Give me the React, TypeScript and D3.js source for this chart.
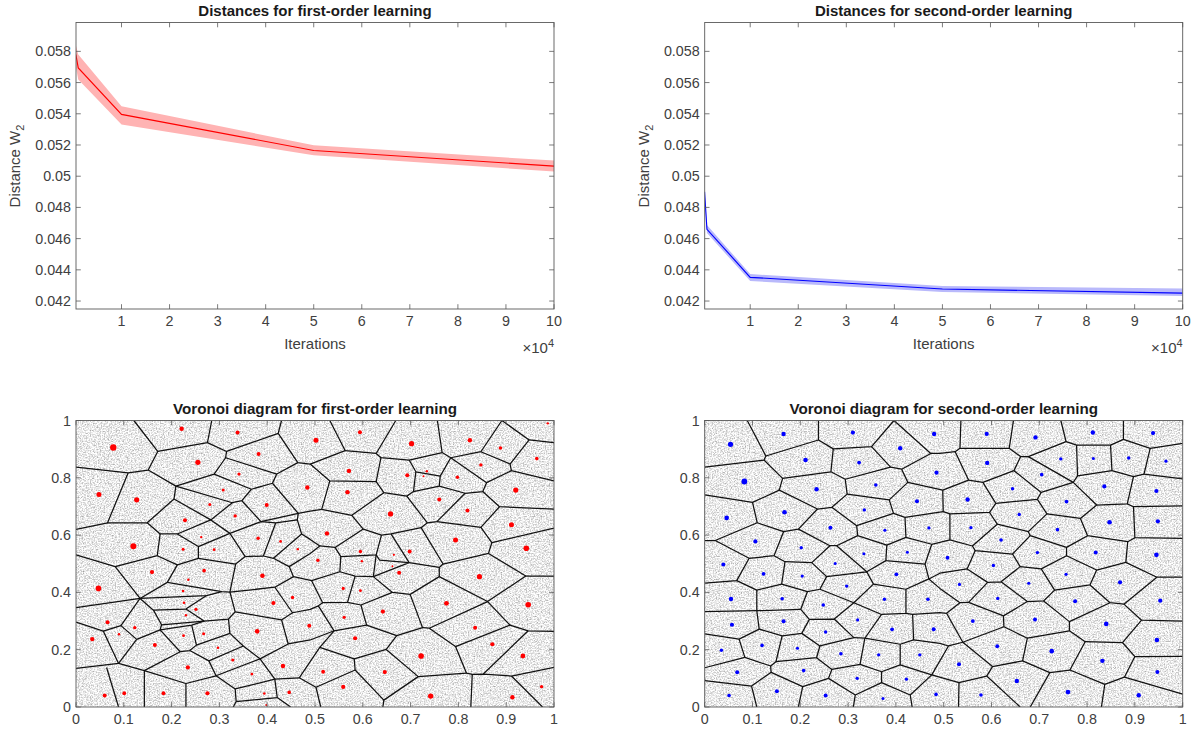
import React from "react";
import * as d3 from "d3";

type Pt = [number, number];
type Dot = [number, number, number];

// iterations, in units of 10^4
const iterations = [0.05, 0.1, 1, 5, 10];

const firstMean = [0.0578, 0.05694, 0.05396, 0.05165, 0.05065];
const firstUpper = [0.0584, 0.0578, 0.05449, 0.05198, 0.0510];
const firstLower = [0.0570, 0.0562, 0.05332, 0.05134, 0.0503];

const secondMean = [0.0490, 0.0466, 0.04352, 0.04277, 0.04251];
const secondUpper = [0.0491, 0.04687, 0.04373, 0.04296, 0.04281];
const secondLower = [0.0488, 0.04636, 0.04328, 0.04258, 0.04232];

const distanceTicks = [0.042, 0.044, 0.046, 0.048, 0.05, 0.052, 0.054, 0.056, 0.058];
const iterationTicks = [1, 2, 3, 4, 5, 6, 7, 8, 9, 10];
const unitXTicks = [0, 0.1, 0.2, 0.3, 0.4, 0.5, 0.6, 0.7, 0.8, 0.9, 1];
const unitYTicks = [0, 0.2, 0.4, 0.6, 0.8, 1];

// cell borders, as polylines
const firstCells: Pt[][] = [
  [[.121,1],[.171,.892],[.151,.827],[.109,.817],[0,.837]],
  [[.171,.892],[.275,.923],[.284,1]],
  [[.275,.923],[.315,.892],[.423,.955],[.430,1]],
  [[.423,.955],[.464,.853],[.490,.848],[.563,.895],[.531,1]],
  [[.315,.892],[.313,.870],[.289,.813],[.209,.771],[.151,.827]],
  [[.313,.870],[.420,.813],[.464,.853]],
  [[.420,.813],[.411,.781],[.367,.760],[.289,.813]],
  [[.411,.781],[.465,.676],[.490,.684],[.514,.690]],
  [[.209,.771],[.205,.726],[.282,.653],[.322,.606]],
  [[.209,.771],[.327,.713],[.347,.720],[.367,.760]],
  [[.347,.720],[.387,.647],[.465,.676]],
  [[.327,.713],[.282,.653]],
  [[.322,.606],[.387,.647],[.418,.643],[.392,.527]],
  [[.418,.643],[.463,.653],[.472,.604],[.413,.519],[.392,.527]],
  [[.465,.676],[.463,.653]],
  [[.205,.726],[.149,.643],[.066,.643],[.109,.817]],
  [[.066,.643],[0,.620]],
  [[.149,.643],[.176,.604],[.212,.604],[.256,.560],[.322,.606]],
  [[.212,.604],[.282,.653]],
  [[.176,.604],[.170,.528],[.082,.490],[0,.531]],
  [[.170,.528],[.212,.496],[.256,.519],[.256,.560]],
  [[.256,.519],[.334,.499],[.354,.525],[.322,.606]],
  [[.354,.525],[.392,.527]],
  [[.413,.519],[.446,.490],[.490,.536],[.510,.562],[.490,.585],[.472,.604]],
  [[.446,.490],[.455,.455],[.493,.441],[.552,.472],[.554,.525]],
  [[.563,.895],[.628,.885],[.669,1]],
  [[.628,.885],[.638,.870],[.697,.862],[.766,.888],[.756,1]],
  [[.766,.888],[.784,.870],[.847,.891],[.891,1],[.948,.932],[1,.923]],
  [[.948,.932],[.908,.848],[.847,.891]],
  [[.908,.848],[.911,.825],[1,.789]],
  [[.911,.825],[.859,.783],[.784,.870],[.762,.806],[.711,.821],[.697,.862]],
  [[.711,.821],[.706,.752],[.760,.771],[.762,.806]],
  [[.706,.752],[.692,.736],[.644,.748],[.628,.787],[.638,.870]],
  [[.490,.848],[.531,.789],[.628,.787]],
  [[.531,.789],[.514,.690],[.577,.669],[.644,.748]],
  [[.577,.669],[.601,.621],[.639,.600],[.659,.604],[.722,.626],[.735,.643],[.692,.736]],
  [[.760,.771],[.814,.746],[.755,.647],[.735,.643]],
  [[.814,.746],[.851,.752],[.859,.783]],
  [[.851,.752],[.886,.699],[1,.691]],
  [[.886,.699],[.847,.627],[.755,.647]],
  [[.847,.627],[.870,.574],[1,.624]],
  [[.870,.574],[.863,.536],[.768,.499],[.722,.626]],
  [[.659,.604],[.697,.504]],
  [[.639,.600],[.628,.531],[.554,.525],[.542,.557],[.601,.621]],
  [[.542,.557],[.510,.562]],
  [[.628,.531],[.635,.513],[.697,.504],[.622,.455]],
  [[.697,.504],[.760,.487],[.768,.499]],
  [[.760,.487],[.760,.455]],
  [[.863,.536],[.941,.457],[1,.457]],
  [[.941,.457],[.861,.368],[.760,.455],[.699,.393],[.662,.400],[.622,.455],[.584,.457],[.552,.472]],
  [[.628,.531],[.622,.455]],
  [[.584,.457],[.568,.365],[.516,.364],[.493,.441]],
  [[.568,.365],[.596,.356],[.662,.400]],
  [[.596,.356],[.608,.286],[.540,.266],[.510,.208]],
  [[.516,.364],[.507,.353],[.490,.341],[.453,.329],[.416,.418]],
  [[.507,.353],[.540,.266],[.490,.234],[.444,.220]],
  [[.608,.286],[.671,.249],[.649,.201],[.582,.168],[.510,.208],[.467,.102]],
  [[.671,.249],[.725,.277],[.699,.393]],
  [[.725,.277],[.739,.275],[.861,.368]],
  [[.739,.275],[.794,.211],[.817,.118],[.829,.114],[.852,.115],[.911,.108],[1,.138]],
  [[.794,.211],[.908,.286],[.861,.368]],
  [[.908,.286],[.946,.266],[1,.264]],
  [[.946,.266],[.852,.115]],
  [[.911,.108],[.976,0]],
  [[.829,.114],[.826,0]],
  [[.817,.118],[.716,.106],[.649,.201]],
  [[.716,.106],[.644,.024],[.584,.129],[.582,.168]],
  [[.644,.024],[.642,0]],
  [[.584,.129],[.502,.069],[.512,0]],
  [[.502,.069],[.467,.102],[.416,.097]],
  [[.082,.490],[.134,.379],[0,.347]],
  [[.134,.379],[.191,.435],[.212,.496]],
  [[.191,.435],[.305,.403],[.322,.401],[.334,.499]],
  [[.134,.379],[.273,.389],[.305,.403]],
  [[.273,.389],[.230,.342],[.162,.338],[.134,.379]],
  [[.230,.342],[.268,.300],[.179,.287],[.162,.338]],
  [[.322,.401],[.416,.418],[.455,.455]],
  [[.322,.401],[.333,.332],[.319,.307],[.268,.300]],
  [[.333,.332],[.430,.304],[.444,.220],[.385,.168],[.350,.213],[.322,.257],[.319,.307]],
  [[.430,.304],[.453,.329]],
  [[.179,.287],[.176,.269],[.127,.236],[.094,.284],[.134,.379]],
  [[.094,.284],[.057,.265],[0,.296]],
  [[.057,.265],[.089,.152],[0,.135]],
  [[.089,.152],[.127,.236]],
  [[.089,.152],[.143,.127],[.218,.193],[.176,.269]],
  [[.176,.269],[.242,.286],[.268,.300]],
  [[.242,.286],[.252,.216],[.238,.197],[.218,.193]],
  [[.252,.216],[.322,.257]],
  [[.350,.213],[.278,.161],[.238,.197]],
  [[.278,.161],[.293,.109],[.230,.082],[.143,.127]],
  [[.293,.109],[.385,.168],[.416,.097],[.333,.063],[.293,.109]],
  [[.333,.063],[.335,.019],[.329,0]],
  [[.335,.019],[.421,.033],[.416,.097]],
  [[.421,.033],[.449,0]],
  [[.230,.082],[.230,0]],
  [[.143,.127],[.143,0]],
  [[.064,.138],[.089,0]],
];

const secondCells: Pt[][] = [
  [[.089,1],[.128,.876],[.124,.862],[0,.837]],
  [[.128,.876],[.238,.932],[.238,1]],
  [[.238,.932],[.269,.901],[.349,.909],[.396,1],[.473,.885],[.492,.885],[.524,.891],[.534,.903],[.536,1]],
  [[.349,.909],[.389,.837],[.412,.830],[.473,.885]],
  [[.269,.901],[.264,.821],[.294,.795],[.298,.743],[.266,.697],[.236,.691],[.156,.757],[.163,.798],[.264,.821]],
  [[.163,.798],[.124,.862]],
  [[.156,.757],[.100,.714],[0,.740]],
  [[.100,.714],[.110,.643],[.022,.581],[0,.581]],
  [[.110,.643],[.165,.612],[.196,.621],[.236,.691]],
  [[.165,.612],[.145,.528],[.093,.519],[.022,.581]],
  [[.196,.621],[.262,.563],[.224,.504],[.168,.507],[.145,.528]],
  [[.266,.697],[.318,.633],[.320,.598],[.381,.565],[.421,.592],[.419,.662],[.395,.676],[.386,.723],[.298,.743]],
  [[.386,.723],[.425,.784],[.412,.830]],
  [[.294,.795],[.389,.837]],
  [[.318,.633],[.395,.676]],
  [[.320,.598],[.276,.563],[.262,.563]],
  [[.419,.662],[.499,.682]],
  [[.425,.784],[.498,.757],[.552,.792],[.524,.891]],
  [[.421,.592],[.475,.568],[.513,.583]],
  [[.381,.565],[.379,.511],[.461,.499],[.475,.568]],
  [[.276,.563],[.339,.472],[.379,.511]],
  [[.093,.519],[.067,.441],[0,.432]],
  [[.067,.441],[.109,.408],[.161,.429],[.168,.507]],
  [[.161,.429],[.215,.403],[.241,.411],[.255,.455],[.224,.504]],
  [[.255,.455],[.339,.472],[.353,.429],[.312,.364],[.241,.411]],
  [[.215,.403],[.201,.341],[.219,.306],[.203,.257],[.162,.248],[.114,.272],[.109,.336],[.109,.408]],
  [[.109,.336],[0,.333]],
  [[.109,.336],[.201,.341]],
  [[.219,.306],[.271,.307],[.312,.242],[.241,.213],[.203,.257]],
  [[.271,.307],[.312,.364],[.370,.323],[.335,.240],[.312,.242]],
  [[.353,.429],[.421,.411],[.469,.447],[.461,.499]],
  [[.421,.411],[.421,.327],[.370,.323]],
  [[.421,.327],[.435,.323],[.437,.234],[.409,.219],[.335,.240]],
  [[.435,.323],[.492,.329],[.506,.327]],
  [[.437,.234],[.492,.222],[.510,.213]],
  [[.469,.447],[.492,.414],[.534,.364]],
  [[.469,.447],[.492,.467],[.549,.482]],
  [[.114,.272],[.072,.237],[0,.255]],
  [[.072,.237],[.084,.173],[.138,.143],[.149,.158],[.162,.248]],
  [[.084,.173],[0,.137]],
  [[.149,.158],[.234,.172],[.241,.213]],
  [[.234,.172],[.266,.131],[.259,.100],[.205,.071],[.139,.121],[.098,.073],[0,.092]],
  [[.139,.121],[.138,.143]],
  [[.098,.073],[.109,0]],
  [[.205,.071],[.196,0]],
  [[.259,.100],[.315,.042],[.311,0]],
  [[.315,.042],[.370,.085],[.370,.123],[.325,.149],[.266,.131]],
  [[.325,.149],[.335,.240]],
  [[.370,.123],[.409,.147],[.409,.219]],
  [[.370,.085],[.430,.042],[.434,0]],
  [[.430,.042],[.475,.112],[.409,.147]],
  [[.475,.112],[.510,.213],[.540,.226]],
  [[.475,.112],[.532,.085]],
  [[.534,.903],[.637,.903],[.646,1]],
  [[.637,.903],[.661,.874],[.647,.825],[.582,.784],[.552,.792]],
  [[.661,.874],[.677,.874],[.756,.926],[.745,1]],
  [[.756,.926],[.778,.914],[.849,.914],[.876,.934],[.876,1]],
  [[.876,.934],[.932,.903],[1,.920]],
  [[.932,.903],[.919,.813],[1,.796]],
  [[.919,.813],[.897,.804],[.852,.825],[.849,.914]],
  [[.778,.914],[.780,.807],[.852,.825]],
  [[.780,.807],[.771,.784],[.677,.874]],
  [[.771,.784],[.704,.749],[.647,.825]],
  [[.704,.749],[.696,.725],[.609,.711],[.582,.784]],
  [[.498,.757],[.499,.682],[.513,.674],[.596,.679],[.609,.711]],
  [[.596,.679],[.612,.638],[.560,.562],[.513,.583],[.513,.674]],
  [[.612,.638],[.677,.612],[.716,.674],[.696,.725]],
  [[.716,.674],[.786,.658],[.820,.705],[.771,.784]],
  [[.820,.705],[.884,.709],[.897,.804]],
  [[.884,.709],[.897,.699],[1,.702]],
  [[.897,.699],[.900,.591],[1,.589]],
  [[.900,.591],[.885,.577],[.801,.598],[.786,.658]],
  [[.801,.598],[.757,.557],[.681,.598],[.677,.612]],
  [[.681,.598],[.644,.534],[.566,.546],[.560,.562]],
  [[.644,.534],[.660,.490]],
  [[.757,.557],[.757,.528],[.820,.478],[.881,.505],[.885,.577]],
  [[.757,.528],[.704,.482]],
  [[.881,.505],[.946,.453],[1,.453]],
  [[.566,.546],[.549,.482],[.592,.435],[.620,.437],[.660,.490],[.704,.482],[.732,.408],[.709,.370],[.675,.368],[.620,.437]],
  [[.732,.408],[.806,.426],[.820,.478]],
  [[.806,.426],[.848,.364],[.877,.359],[.946,.453]],
  [[.709,.370],[.763,.298],[.848,.364]],
  [[.877,.359],[.914,.303],[1,.300]],
  [[.914,.303],[.874,.225],[.796,.228],[.763,.266],[.763,.298]],
  [[.874,.225],[.900,.176],[1,.177]],
  [[.900,.176],[.878,.104],[1,.045]],
  [[.878,.104],[.837,.079],[.830,0]],
  [[.837,.079],[.764,.129],[.796,.228]],
  [[.764,.129],[.722,.120],[.665,.161],[.675,.240],[.763,.266]],
  [[.722,.120],[.681,0]],
  [[.675,.240],[.626,.280],[.625,.318],[.675,.368]],
  [[.625,.318],[.552,.365],[.592,.435]],
  [[.552,.365],[.534,.364],[.506,.327],[.540,.226],[.626,.280]],
  [[.540,.226],[.602,.141],[.665,.161]],
  [[.602,.141],[.590,.108],[.660,0]],
  [[.590,.108],[.532,.085],[.531,0]],
];

// x, y, dot radius
const firstSites: Dot[] = [
  [.078,.906,3.2],[.221,.971,2.2],[.338,.958,2],[.382,.883,2],[.255,.854,2.6],[.341,.813,1.6],[.308,.757,1.5],
  [.484,.766,2.2],[.048,.742,2.5],[.127,.723,2.6],[.280,.707,1.5],[.399,.705,2],[.333,.667,1.7],[.228,.652,2],
  [.262,.593,1.2],[.381,.589,1.7],[.428,.578,1.4],[.120,.561,3],[.224,.551,1.5],[.289,.549,1.4],[.464,.551,1.2],
  [.502,.931,2.5],[.594,.959,2],[.702,.919,2.6],[.824,.931,2.2],[.987,.990,1.2],[.888,.904,1.8],[.964,.867,1.8],
  [.847,.845,1.7],[.571,.824,2.2],[.693,.809,2],[.734,.823,1.2],[.727,.805,1],[.798,.802,1.7],[.568,.750,2.2],
  [.920,.757,2.6],[.760,.724,2],[.819,.686,2],[.658,.674,2.6],[.911,.636,2.5],[.525,.606,2.2],[.794,.583,2.5],
  [.942,.554,2.8],[.698,.543,2],[.595,.543,1.7],[.665,.531,1.1],[.506,.512,1.7],[.598,.509,1.2],[.662,.491,1],
  [.159,.471,2.1],[.268,.476,1.8],[.390,.458,2.3],[.047,.414,2.8],[.235,.444,1.2],[.224,.405,1.3],[.226,.364,1.3],
  [.251,.341,1.6],[.413,.363,2.1],[.453,.382,1.7],[.230,.320,1.2],[.066,.296,2],[.123,.277,1.7],[.090,.254,1.2],
  [.488,.284,2],[.379,.264,2.3],[.267,.256,1.5],[.225,.249,1.4],[.034,.237,2.2],[.165,.216,2],[.297,.207,1.3],
  [.328,.164,1.6],[.234,.138,2.1],[.433,.143,2.2],[.368,.115,1.4],[.060,.040,2],[.101,.048,1.9],[.183,.048,1.9],
  [.275,.048,2.1],[.394,.047,1.3],[.446,.051,1.8],[.398,.007,.9],[.559,.414,1.6],[.595,.406,1.4],[.676,.469,2],
  [.844,.455,2.6],[.775,.362,2.4],[.946,.357,2.8],[.561,.313,1.6],[.642,.333,2.1],[.835,.277,2],[.584,.240,2.1],
  [.871,.219,2.1],[.722,.178,2.8],[.935,.178,2.4],[.517,.123,1.9],[.646,.122,2.1],[.559,.070,2.1],[.742,.038,2.7],
  [.913,.034,2.2],[.974,.071,1.7],
];

const secondSites: Dot[] = [
  [.054,.917,2.6],[.165,.953,2.2],[.310,.958,2.1],[.409,.903,2.2],[.480,.953,2.2],[.211,.862,2.3],[.323,.853,1.9],
  [.485,.818,2.1],[.083,.787,2.9],[.234,.760,2.2],[.358,.775,1.8],[.444,.718,2],[.046,.660,2.3],[.167,.680,2.3],
  [.334,.688,1.7],[.377,.617,1.6],[.469,.625,1.6],[.263,.626,2],[.106,.578,2.1],[.202,.556,1.7],[.273,.501,1.5],
  [.333,.535,1.5],[.424,.540,1.5],[.039,.497,2],[.590,.953,2.1],[.692,.941,2.2],[.812,.958,2.2],[.938,.956,2.1],
  [.745,.866,1.7],[.813,.867,1.5],[.887,.869,1.7],[.965,.858,1.6],[.591,.852,2.2],[.705,.811,1.8],[.644,.762,1.7],
  [.836,.770,2.1],[.945,.754,2.1],[.550,.724,2.2],[.757,.717,1.9],[.658,.672,1.7],[.847,.645,2.3],[.948,.648,2.1],
  [.557,.626,1.7],[.738,.619,1.8],[.620,.583,1.8],[.696,.539,1.7],[.818,.539,2],[.945,.531,2.3],[.508,.521,1.9],
  [.604,.494,1.7],[.533,.428,1.6],[.678,.432,1.6],[.756,.463,1.6],[.869,.435,2.1],[.613,.379,1.7],[.775,.369,2],
  [.953,.371,2.1],[.561,.300,1.9],[.691,.305,2],[.840,.290,2.3],[.946,.234,2.3],[.612,.212,1.9],[.726,.195,2.3],
  [.532,.149,2],[.832,.161,2.2],[.947,.122,2],[.653,.091,2.2],[.760,.052,2.4],[.578,.042,1.8],[.908,.041,2.2],
  [.123,.465,1.9],[.204,.457,1.6],[.297,.422,1.7],[.401,.463,1.9],[.055,.377,2.2],[.162,.378,1.8],[.248,.356,1.8],
  [.376,.376,1.7],[.467,.376,1.8],[.057,.287,2.1],[.165,.299,2],[.320,.304,1.6],[.392,.271,1.9],[.253,.262,1.7],
  [.479,.271,2],[.035,.198,1.7],[.120,.215,1.8],[.194,.205,1.6],[.285,.186,1.8],[.364,.182,1.7],[.450,.182,1.7],
  [.068,.121,2],[.207,.127,1.8],[.319,.100,1.7],[.422,.097,1.6],[.051,.040,1.8],[.151,.055,2],[.253,.040,2],
  [.373,.030,1.5],[.484,.044,1.8],
];

const FONT = "'Liberation Sans', Arial, sans-serif";
const AXIS_COLOR = "#5a5a5a";
const TEXT_COLOR = "#404040";
const TICK_LEN = 4.8;

function Frame({ x, y, xTicks, yTicks, xFormat, yFormat }) {
  const [x0, x1] = x.range();
  const [y0, y1] = y.range();
  return (
    <g fontFamily={FONT} fontSize={14.3} fill={TEXT_COLOR}>
      {xTicks.map(t => (
        <g key={t}>
          <path d={`M${x(t)},${y0}V${y0 - TICK_LEN}M${x(t)},${y1}V${y1 + TICK_LEN}`} stroke={AXIS_COLOR} strokeWidth={0.8} />
          <text x={x(t)} y={y0 + 17} textAnchor="middle">{xFormat(t)}</text>
        </g>
      ))}
      {yTicks.map(t => (
        <g key={t}>
          <path d={`M${x0},${y(t)}H${x0 + TICK_LEN}M${x1},${y(t)}H${x1 - TICK_LEN}`} stroke={AXIS_COLOR} strokeWidth={0.8} />
          <text x={x0 - 5} y={y(t) + 5} textAnchor="end">{yFormat(t)}</text>
        </g>
      ))}
      <rect x={x0} y={y1} width={x1 - x0} height={y0 - y1} fill="none" stroke={AXIS_COLOR} strokeWidth={0.9} />
    </g>
  );
}

function DistancePanel({ left, title, mean, upper, lower, color, band, clipId }) {
  const x = d3.scaleLinear().domain([0.053, 10]).range([left, left + 478]);
  const y = d3.scaleLinear().domain([0.04149, 0.05985]).range([309, 22.5]);
  const meanLine = d3.line<number>().x((_, i) => x(iterations[i])).y(d => y(d));
  const bandArea = d3.area<number>()
    .x((_, i) => x(iterations[i]))
    .y0((_, i) => y(lower[i]))
    .y1(d => y(d));
  return (
    <g>
      <clipPath id={clipId}>
        <rect x={left} y={22.5} width={478} height={286.5} />
      </clipPath>
      <g clipPath={`url(#${clipId})`}>
        <path d={bandArea(upper)} fill={band} />
        <path d={meanLine(mean)} fill="none" stroke={color} strokeWidth={1.15} />
      </g>
      <Frame x={x} y={y} xTicks={iterationTicks} yTicks={distanceTicks} xFormat={d => d} yFormat={d3.format("~g")} />
      <text x={left + 239} y={16} textAnchor="middle" fontFamily={FONT} fontSize={15} fontWeight="bold" fill="#1a1a1a">{title}</text>
      <text x={left + 239} y={349} textAnchor="middle" fontFamily={FONT} fontSize={15} fill={TEXT_COLOR}>Iterations</text>
      <text transform={`translate(${left - 56},${166}) rotate(-90)`} textAnchor="middle" fontFamily={FONT} fontSize={15} fill={TEXT_COLOR}>
        Distance W<tspan dy={4} fontSize={11}>2</tspan>
      </text>
      <text x={left + 478} y={353} textAnchor="end" fontFamily={FONT} fontSize={15} fill={TEXT_COLOR}>
        ×10<tspan dy={-6} fontSize={11}>4</tspan>
      </text>
    </g>
  );
}

function VoronoiPanel({ left, title, cells, sites, color, clipId }) {
  const x = d3.scaleLinear().domain([0, 1]).range([left, left + 478]);
  const y = d3.scaleLinear().domain([0, 1]).range([707, 420.5]);
  const border = d3.line<Pt>().x(d => x(d[0])).y(d => y(d[1]));
  return (
    <g>
      <clipPath id={clipId}>
        <rect x={left} y={420.5} width={478} height={286.5} />
      </clipPath>
      <rect x={left} y={420.5} width={478} height={286.5} fill="#fff" />
      <rect x={left} y={420.5} width={478} height={286.5} filter="url(#stipple)" opacity={0.6} />
      <g clipPath={`url(#${clipId})`}>
        {cells.map((c, i) => (
          <path key={i} d={border(c)} fill="none" stroke="#111" strokeWidth={1.25} strokeLinejoin="round" />
        ))}
        {sites.map((s, i) => (
          <circle key={i} cx={x(s[0])} cy={y(s[1])} r={s[2]} fill={color} />
        ))}
      </g>
      <Frame x={x} y={y} xTicks={unitXTicks} yTicks={unitYTicks} xFormat={d3.format("~g")} yFormat={d3.format("~g")} />
      <text x={left + 239} y={414} textAnchor="middle" fontFamily={FONT} fontSize={15.2} fontWeight="bold" fill="#1a1a1a">{title}</text>
    </g>
  );
}

export default function App() {
  return (
    <svg width={1200} height={733} style={{ position: "absolute", left: 0, top: 0, background: "#fff" }}>
      <defs>
        {/* sample cloud behind the diagrams, as a noise texture */}
        <filter id="stipple" x="0" y="0" width="1" height="1" colorInterpolationFilters="sRGB">
          <feTurbulence type="fractalNoise" baseFrequency="0.73" numOctaves={3} seed={11} />
          <feColorMatrix values="0 0 0 0 0.1  0 0 0 0 0.1  0 0 0 0 0.1  1.3 0 0 0 -0.5" />
        </filter>
      </defs>
      <DistancePanel left={76} title="Distances for first-order learning" mean={firstMean} upper={firstUpper} lower={firstLower} color="#ff0000" band="#ffb3b3" clipId="clip-d1" />
      <DistancePanel left={704.7} title="Distances for second-order learning" mean={secondMean} upper={secondUpper} lower={secondLower} color="#0000ff" band="#b9b9fb" clipId="clip-d2" />
      <VoronoiPanel left={76} title="Voronoi diagram for first-order learning" cells={firstCells} sites={firstSites} color="#ff0000" clipId="clip-v1" />
      <VoronoiPanel left={704.7} title="Voronoi diagram for second-order learning" cells={secondCells} sites={secondSites} color="#0000ff" clipId="clip-v2" />
    </svg>
  );
}
